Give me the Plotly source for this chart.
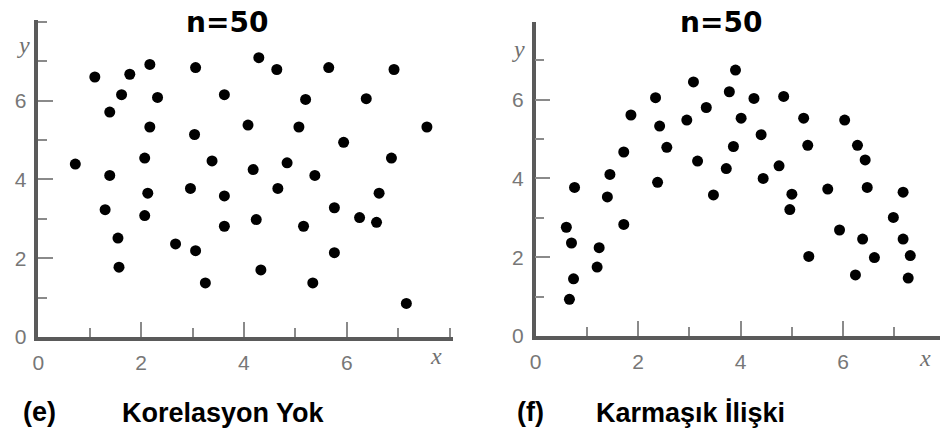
import plotly.graph_objects as go

# Panel (e): no correlation
x_e = [1.10, 1.78, 2.17, 3.06, 4.29, 4.64, 5.65, 6.92, 1.62, 2.32,
       3.62, 5.20, 6.38, 1.39, 2.17, 3.04, 4.08, 5.07, 7.56, 5.94,
       0.72, 2.07, 3.38, 4.18, 4.84, 5.38, 6.87, 1.39, 2.13, 2.96,
       3.62, 4.66, 6.63, 1.30, 2.07, 3.62, 4.24, 5.16, 5.76, 6.25,
       6.58, 1.55, 2.67, 3.06, 5.76, 1.57, 4.33, 3.25, 5.34, 7.16]
y_e = [6.60, 6.67, 6.92, 6.84, 7.09, 6.79, 6.84, 6.79, 6.15, 6.08,
       6.15, 6.03, 6.05, 5.71, 5.33, 5.14, 5.38, 5.33, 5.33, 4.94,
       4.39, 4.54, 4.47, 4.25, 4.42, 4.10, 4.54, 4.10, 3.65, 3.77,
       3.58, 3.77, 3.65, 3.23, 3.08, 2.81, 2.98, 2.81, 3.28, 3.03,
       2.91, 2.51, 2.36, 2.19, 2.14, 1.77, 1.70, 1.37, 1.37, 0.85]

# Panel (f): complex (curved) relationship
x_f = [3.90, 3.08, 3.78, 2.34, 4.26, 4.84, 3.33, 1.86, 2.42, 2.95,
       4.01, 5.23, 6.03, 4.40, 1.72, 2.56, 3.86, 5.31, 6.28, 6.43,
       3.16, 3.72, 4.75, 1.45, 2.38, 4.44, 0.76, 1.40, 3.47, 5.00,
       5.70, 6.47, 7.17, 4.96, 6.98, 0.60, 1.72, 5.93, 0.70, 1.24,
       6.38, 7.17, 5.33, 6.61, 7.31, 1.20, 6.24, 0.74, 7.27, 0.66]
y_f = [6.75, 6.45, 6.20, 6.05, 6.03, 6.08, 5.80, 5.61, 5.33, 5.48,
       5.53, 5.53, 5.48, 5.11, 4.67, 4.79, 4.81, 4.84, 4.84, 4.47,
       4.44, 4.25, 4.32, 4.10, 3.90, 4.00, 3.77, 3.53, 3.58, 3.60,
       3.73, 3.77, 3.65, 3.21, 3.01, 2.76, 2.83, 2.69, 2.36, 2.24,
       2.46, 2.46, 2.02, 1.99, 2.04, 1.75, 1.55, 1.45, 1.47, 0.93]

tick_vals = [0, 2, 4, 6]
tick_text = ["0", "2", "4", "6"]
panel_titles = ["n=50", "n=50"]
panel_letters = ["(e)", "(f)"]
panel_captions = ["Korelasyon Yok", "Karmaşık İlişki"]

W, H = 940, 443


def px_x(p):
    return p / W


def px_y(p):
    return 1 - p / H


fig = go.Figure()
marker = dict(color="black", size=11, line=dict(width=0))
fig.add_trace(go.Scatter(x=x_e, y=y_e, mode="markers", marker=marker,
                         xaxis="x", yaxis="y", showlegend=False))
fig.add_trace(go.Scatter(x=x_f, y=y_f, mode="markers", marker=marker,
                         xaxis="x2", yaxis="y2", showlegend=False))

tick_font = dict(family="Liberation Sans", size=21, color="#777777")


def axis_style(rng, domain, anchor, standoff):
    return dict(
        range=rng, domain=domain, anchor=anchor,
        showgrid=False, zeroline=False,
        showline=True, linecolor="#5a5a5a", linewidth=3.5,
        ticks="inside", ticklen=15, tickwidth=2, tickcolor="#8a8a8a",
        tickvals=tick_vals, ticktext=tick_text, tickfont=tick_font,
        ticklabelstandoff=standoff,
        minor=dict(dtick=1, ticks="inside", ticklen=9, tickwidth=2,
                   tickcolor="#8a8a8a", showgrid=False),
        fixedrange=True,
    )


fig.update_layout(
    width=W, height=H,
    margin=dict(l=0, r=0, t=0, b=0),
    paper_bgcolor="white", plot_bgcolor="white",
    xaxis=axis_style([0, 8.07], [px_x(32.5), px_x(450)], "y", 4),
    yaxis=axis_style([0, 8.06], [px_y(345.5), px_y(20)], "x", 4),
    xaxis2=axis_style([0, 7.89], [px_x(533), px_x(940)], "y2", 4),
    yaxis2=axis_style([0, 7.96], [px_y(344.5), px_y(23)], "x2", 4),
)

annos = []
title_font = dict(family="DejaVu Sans", size=28, color="black")
for cx, t in zip([222, 720], panel_titles):
    annos.append(dict(x=px_x(cx), y=px_y(23), xref="paper", yref="paper",
                      text=f"<b>{t}</b>", showarrow=False, font=title_font,
                      xanchor="center", yanchor="middle"))

axis_name_font = dict(family="Liberation Serif", size=24, color="#707070")
for (cx, cy), t in zip([(18, 46), (516, 50), (433, 365), (925, 367)],
                       ["y", "y", "x", "x"]):
    annos.append(dict(x=px_x(cx), y=px_y(cy), xref="paper", yref="paper",
                      text=f"<i>{t}</i>", showarrow=False, font=axis_name_font,
                      xanchor="center", yanchor="middle"))

cap_font = dict(family="Liberation Sans", size=27, color="black")
for lx, letter, capx, cap in zip([34, 528], panel_letters, [115, 592], panel_captions):
    annos.append(dict(x=px_x(lx), y=px_y(423), xref="paper", yref="paper",
                      text=f"<b>{letter}</b>", showarrow=False, font=cap_font,
                      xanchor="center", yanchor="middle"))
    annos.append(dict(x=px_x(capx), y=px_y(424), xref="paper", yref="paper",
                      text=f"<b>{cap}</b>", showarrow=False, font=cap_font,
                      xanchor="left", yanchor="middle"))

fig.update_layout(annotations=annos)
fig.write_html("out.html")
